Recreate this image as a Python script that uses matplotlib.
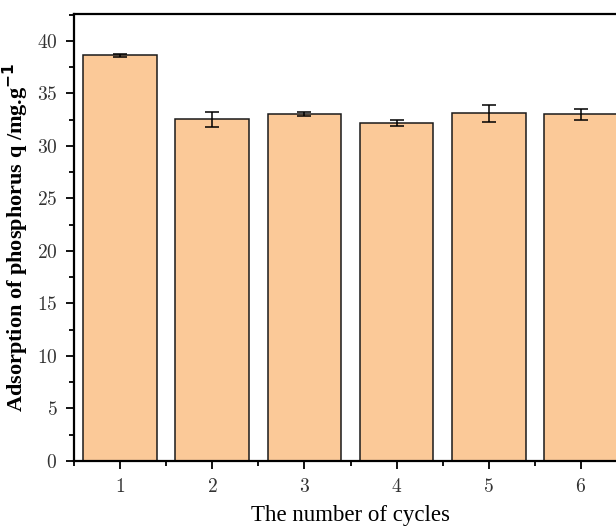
import matplotlib
matplotlib.use("Agg")
import matplotlib.pyplot as plt
from matplotlib.ticker import MultipleLocator

plt.rcParams["font.family"] = ["cmr10", "DejaVu Serif"]
plt.rcParams["axes.formatter.use_mathtext"] = True

cycles = [1, 2, 3, 4, 5, 6]
adsorption = [38.65, 32.55, 33.05, 32.2, 33.1, 33.0]
errors = [0.15, 0.7, 0.2, 0.25, 0.85, 0.5]
yticks = [0, 5, 10, 15, 20, 25, 30, 35, 40]

fig = plt.figure(figsize=(6.16, 5.26), dpi=100)
ax = fig.add_axes([74 / 616, 65 / 526, 553 / 616, 447 / 526])

ax.bar(cycles, adsorption, width=0.8, color="#FBC998", edgecolor="#1a1a1a",
       linewidth=1.1, zorder=2)
ax.errorbar(cycles, adsorption, yerr=errors, fmt="none", ecolor="black",
            elinewidth=1.1, capsize=5, capthick=1.1, zorder=3)

ax.set_xlim(0.5, 6.5)
ax.set_ylim(0, 42.57)
ax.set_xticks(cycles)
ax.set_yticks(yticks)
ax.xaxis.set_minor_locator(MultipleLocator(0.5))
ax.yaxis.set_minor_locator(MultipleLocator(2.5))
ax.tick_params(which="major", direction="out", length=6, width=1.3,
               labelsize=14, colors="black", labelcolor="#333333", pad=6)
ax.tick_params(which="minor", direction="out", length=3.5, width=1.3)
for s in ax.spines.values():
    s.set_linewidth(1.6)

ax.set_xlabel("The number of cycles", fontsize=16.5, family="Liberation Serif",
              labelpad=7)
ax.set_ylabel("Adsorption of phosphorus q /mg.g$^{\\mathbf{-1}}$", fontsize=16,
              family="Liberation Serif", fontweight="bold", labelpad=4)

fig.savefig("out.png", dpi=100)
